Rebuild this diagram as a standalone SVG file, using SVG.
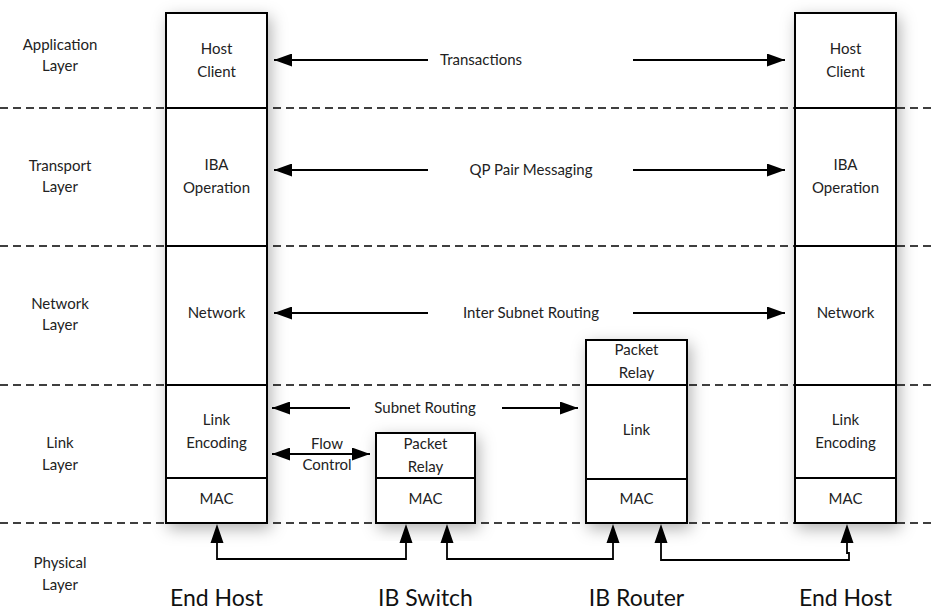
<svg xmlns="http://www.w3.org/2000/svg" width="933" height="612" viewBox="0 0 933 612">
  <style>
    .lbl { font-family: Lato, "Open Sans", "Liberation Sans", sans-serif; font-size: 15px; fill: #222; text-anchor: middle; }
    .big { font-family: Lato, "Open Sans", "Liberation Sans", sans-serif; font-size: 23px; fill: #111; text-anchor: middle; }
    .box { fill: #fff; stroke: #000; stroke-width: 2; }
    .div { stroke: #000; stroke-width: 2; }
    .dash { stroke: #000; stroke-width: 1.6; stroke-dasharray: 8 5; }
    .arr { stroke: #000; stroke-width: 1.8; fill: none; }
  </style>
  <defs>
    <filter id="shadow" x="-40%" y="-20%" width="180%" height="140%">
      <feDropShadow dx="3" dy="5" stdDeviation="8" flood-color="#000" flood-opacity="0.3"/>
    </filter>
    <marker id="head" viewBox="0 0 18 13" refX="18" refY="6.5" markerWidth="18" markerHeight="13" markerUnits="userSpaceOnUse" orient="auto-start-reverse">
      <path d="M0,0 L18,6.5 L0,13 Z" fill="#000"/>
    </marker>
  </defs>

  <rect width="933" height="612" fill="#fff"/>

  <!-- layer separators -->
  <g id="layers">
    <line class="dash" x1="0" y1="108" x2="933" y2="108"/>
    <line class="dash" x1="0" y1="246" x2="933" y2="246"/>
    <line class="dash" x1="0" y1="385" x2="933" y2="385"/>
    <line class="dash" x1="0" y1="523" x2="933" y2="523"/>
    <text class="lbl" x="60" y="50">Application</text>
    <text class="lbl" x="60" y="71">Layer</text>
    <text class="lbl" x="60" y="171">Transport</text>
    <text class="lbl" x="60" y="192">Layer</text>
    <text class="lbl" x="60" y="309">Network</text>
    <text class="lbl" x="60" y="330">Layer</text>
    <text class="lbl" x="60" y="448">Link</text>
    <text class="lbl" x="60" y="470">Layer</text>
    <text class="lbl" x="60" y="568">Physical</text>
    <text class="lbl" x="60" y="590">Layer</text>
  </g>

  <!-- left end host stack -->
  <g id="end-host-left">
    <rect class="box" x="166" y="13" width="101" height="510" filter="url(#shadow)"/>
    <line class="div" x1="166" y1="108" x2="267" y2="108"/>
    <line class="div" x1="166" y1="246" x2="267" y2="246"/>
    <line class="div" x1="166" y1="385" x2="267" y2="385"/>
    <line class="div" x1="166" y1="478" x2="267" y2="478"/>
    <text class="lbl" x="216.5" y="54">Host</text>
    <text class="lbl" x="216.5" y="77">Client</text>
    <text class="lbl" x="216.5" y="170">IBA</text>
    <text class="lbl" x="216.5" y="193">Operation</text>
    <text class="lbl" x="216.5" y="318">Network</text>
    <text class="lbl" x="216.5" y="425">Link</text>
    <text class="lbl" x="216.5" y="448">Encoding</text>
    <text class="lbl" x="216.5" y="504">MAC</text>
    <text class="big" x="216.5" y="606">End Host</text>
  </g>

  <!-- IB switch -->
  <g id="ib-switch">
    <rect class="box" x="376" y="433" width="99" height="90" filter="url(#shadow)"/>
    <line class="div" x1="376" y1="478" x2="475" y2="478"/>
    <text class="lbl" x="425.5" y="449">Packet</text>
    <text class="lbl" x="425.5" y="472">Relay</text>
    <text class="lbl" x="425.5" y="504">MAC</text>
    <text class="big" x="425.5" y="606">IB Switch</text>
  </g>

  <!-- IB router -->
  <g id="ib-router">
    <rect class="box" x="586" y="340" width="101" height="183" filter="url(#shadow)"/>
    <line class="div" x1="586" y1="385" x2="687" y2="385"/>
    <line class="div" x1="586" y1="479" x2="687" y2="479"/>
    <text class="lbl" x="636.5" y="355">Packet</text>
    <text class="lbl" x="636.5" y="378">Relay</text>
    <text class="lbl" x="636.5" y="435">Link</text>
    <text class="lbl" x="636.5" y="504">MAC</text>
    <text class="big" x="636.5" y="606">IB Router</text>
  </g>

  <!-- right end host stack -->
  <g id="end-host-right">
    <rect class="box" x="795" y="13" width="101" height="510" filter="url(#shadow)"/>
    <line class="div" x1="795" y1="108" x2="896" y2="108"/>
    <line class="div" x1="795" y1="246" x2="896" y2="246"/>
    <line class="div" x1="795" y1="385" x2="896" y2="385"/>
    <line class="div" x1="795" y1="478" x2="896" y2="478"/>
    <text class="lbl" x="845.5" y="54">Host</text>
    <text class="lbl" x="845.5" y="77">Client</text>
    <text class="lbl" x="845.5" y="170">IBA</text>
    <text class="lbl" x="845.5" y="193">Operation</text>
    <text class="lbl" x="845.5" y="318">Network</text>
    <text class="lbl" x="845.5" y="425">Link</text>
    <text class="lbl" x="845.5" y="448">Encoding</text>
    <text class="lbl" x="845.5" y="504">MAC</text>
    <text class="big" x="845.5" y="606">End Host</text>
  </g>

  <!-- connectors -->
  <g id="connectors">
    <line class="arr" x1="428" y1="60" x2="274" y2="60" marker-end="url(#head)"/>
    <line class="arr" x1="633" y1="60" x2="785" y2="60" marker-end="url(#head)"/>
    <text class="lbl" x="481" y="65">Transactions</text>

    <line class="arr" x1="428" y1="170" x2="274" y2="170" marker-end="url(#head)"/>
    <line class="arr" x1="633" y1="170" x2="785" y2="170" marker-end="url(#head)"/>
    <text class="lbl" x="531" y="175">QP Pair Messaging</text>

    <line class="arr" x1="428" y1="313" x2="274" y2="313" marker-end="url(#head)"/>
    <line class="arr" x1="633" y1="313" x2="785" y2="313" marker-end="url(#head)"/>
    <text class="lbl" x="531" y="318">Inter Subnet Routing</text>

    <line class="arr" x1="350" y1="408" x2="272" y2="408" marker-end="url(#head)"/>
    <line class="arr" x1="502" y1="408" x2="578" y2="408" marker-end="url(#head)"/>
    <text class="lbl" x="425" y="413">Subnet Routing</text>

    <line class="arr" x1="272" y1="454" x2="370" y2="454" marker-start="url(#head)" marker-end="url(#head)"/>
    <text class="lbl" x="327" y="449">Flow</text>
    <text class="lbl" x="327" y="470">Control</text>

    <path class="arr" d="M217,541 V559 H406 V541"/>
    <path d="M217,524 L223.5,543 L210.5,543 Z M406,524 L412.5,543 L399.5,543 Z"/>
    <path class="arr" d="M447,541 V559 H613 V541"/>
    <path d="M447,524 L453.5,543 L440.5,543 Z M613,524 L619.5,543 L606.5,543 Z"/>
    <path class="arr" d="M661,541 V560 H849 V553 H847 V541"/>
    <path d="M661,524 L667.5,543 L654.5,543 Z M847,524 L853.5,543 L840.5,543 Z"/>
  </g>
</svg>
